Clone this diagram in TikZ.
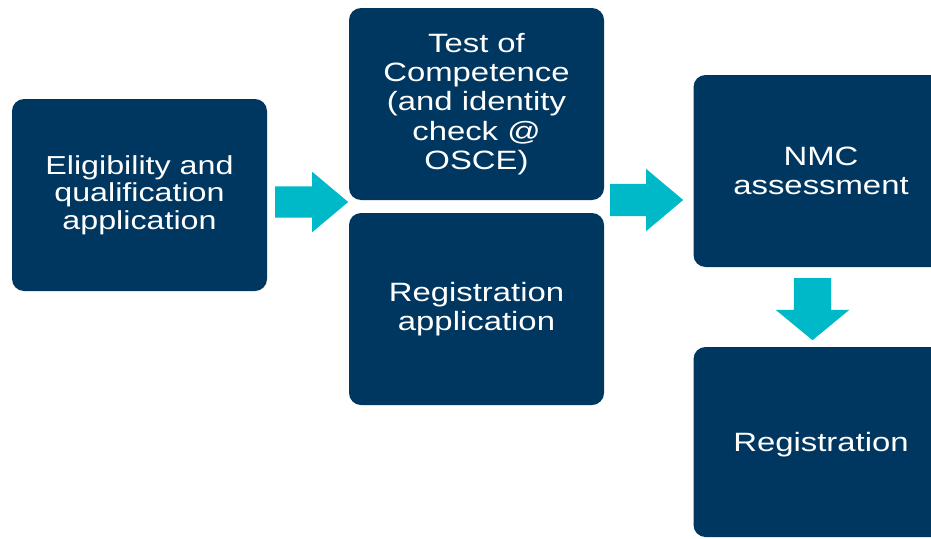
\documentclass[tikz,border=0pt]{standalone}
\usepackage{fontspec}
\setmainfont[FakeStretch=1.24]{Liberation Sans}
\usepackage{xcolor}
\usetikzlibrary{shapes.arrows}
\definecolor{nmcnavy}{RGB}{0,55,96}
\definecolor{nmcteal}{RGB}{0,185,200}

\begin{document}
\begin{tikzpicture}[x=1pt,y=-1pt,
    stage/.style={fill=nmcnavy,rounded corners=12pt,minimum width=255pt,minimum height=192pt,
      inner sep=0pt,text=white,align=center,font=\fontsize{26.5}{29.3}\selectfont},
    flow/.style={single arrow,fill=nmcteal,inner sep=0pt,single arrow head indent=0pt,anchor=tail}]
  \useasboundingbox (0,0) rectangle (931,538);
  \clip (0,0) rectangle (931,538);
  % stages
  \node[stage,font=\fontsize{26}{27.5}\selectfont] (elig) at (139.5,195) {Eligibility and\\qualification\\application};
  \node[stage] (toc) at (476.5,104) {Test of\\Competence\\(and identity\\check @\\OSCE)};
  \node[stage] (regapp) at (476.5,309) {Registration\\application};
  \node[stage] (nmc) at (821,171) {NMC\\assessment};
  \node[stage,minimum height=190pt,text depth=0pt] (reg) at (821,442) {Registration};
  % block arrows
  \node[flow,minimum height=73pt,inner ysep=15.5pt,single arrow head extend=14.5pt,single arrow tip angle=80] (a1) at (275,202) {};
  \node[flow,minimum height=73pt,inner ysep=16pt,single arrow head extend=15pt,single arrow tip angle=80] (a2) at (610,200) {};
  \node[flow,minimum height=62pt,inner xsep=18.5pt,single arrow head extend=18pt,single arrow tip angle=101,shape border rotate=270] (a3) at (812.5,278) {};
\end{tikzpicture}
\end{document}
